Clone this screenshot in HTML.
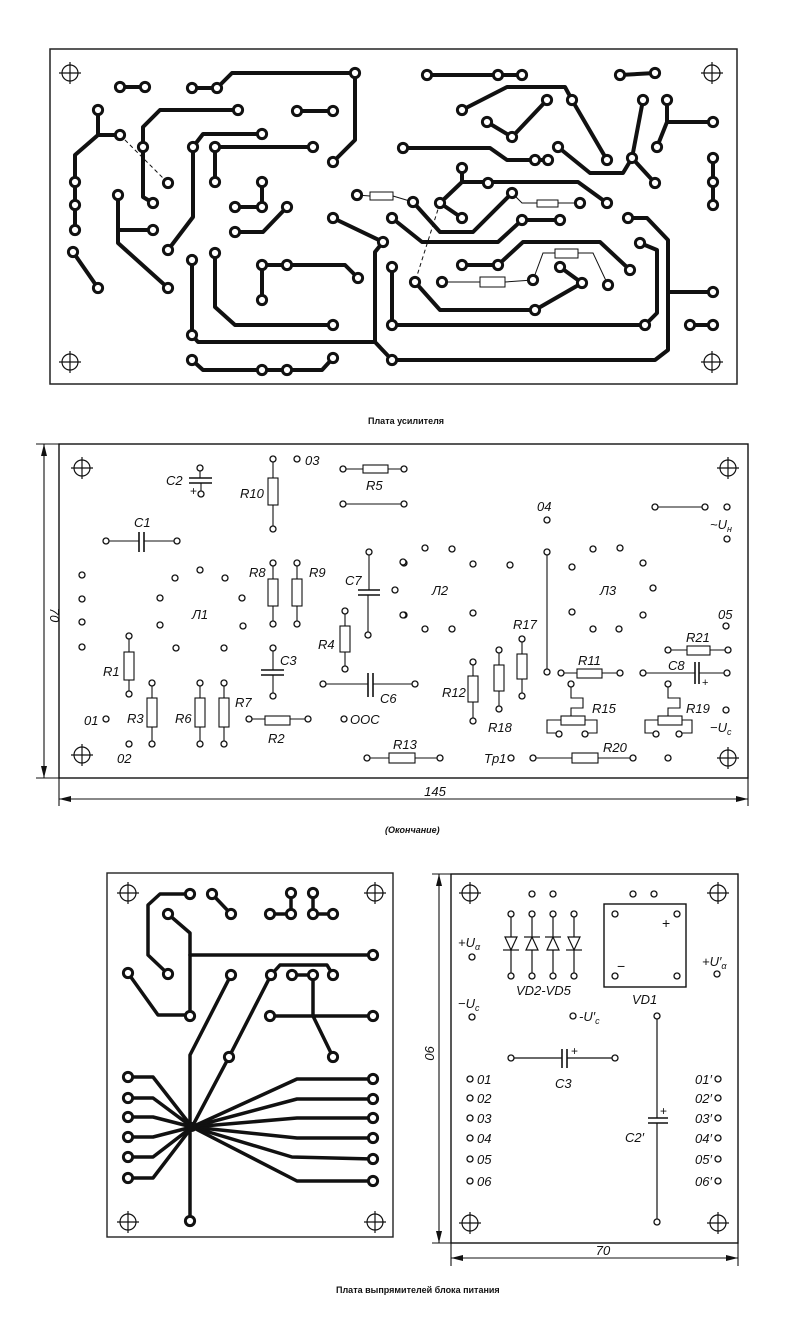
<!DOCTYPE html>
<html><head><meta charset="utf-8">
<style>
html,body{margin:0;padding:0;background:#fff;}
svg{display:block;}
.t{font-family:"Liberation Sans",sans-serif;font-style:italic;font-size:13px;fill:#111;}
.cap{font-family:"Liberation Sans",sans-serif;font-weight:bold;font-size:9px;fill:#111;}
</style></head>
<body>
<svg width="798" height="1332" viewBox="0 0 798 1332" xmlns="http://www.w3.org/2000/svg">
<defs>
<g id="ch"><circle cx="0" cy="0" r="8" fill="none" stroke="#111" stroke-width="1.2"/><line x1="-11" y1="0" x2="11" y2="0" stroke="#111" stroke-width="1.2"/><line x1="0" y1="-11" x2="0" y2="11" stroke="#111" stroke-width="1.2"/></g>
<circle id="P" r="4.6" fill="#fff" stroke="#111" stroke-width="3"/>
<circle id="p" r="3" fill="#fff" stroke="#111" stroke-width="1.3"/>
</defs>

<!-- ================= TOP BOARD ================= -->
<rect x="50" y="49" width="687" height="335" fill="none" stroke="#222" stroke-width="1.5"/>
<use href="#ch" x="70" y="73"/><use href="#ch" x="70" y="362"/><use href="#ch" x="712" y="73"/><use href="#ch" x="712" y="362"/>
<g fill="none" stroke="#111" stroke-width="4" stroke-linejoin="round" stroke-linecap="round">
<polyline points="120,87 145,87"/>
<polyline points="192,88 217,88 232,73 355,73 355,140 333,162"/>
<polyline points="98,110 98,135 120,135"/>
<polyline points="98,135 75,155 75,230"/>
<polyline points="238,110 160,110 143,127 143,197 153,203"/>
<polyline points="262,134 203,134 193,147 193,217 168,250"/>
<polyline points="215,182 215,147 313,147"/>
<polyline points="297,111 333,111"/>
<polyline points="262,182 262,207 235,207"/>
<polyline points="287,207 263,232 235,232"/>
<polyline points="118,195 118,243 168,288"/>
<polyline points="118,230 153,230"/>
<polyline points="73,252 98,288"/>
<polyline points="192,260 192,335 198,342 375,342"/>
<polyline points="215,253 215,307 235,325 333,325"/>
<polyline points="262,300 262,265 345,265 358,278"/>
<polyline points="333,218 383,242 375,252 375,342 392,360"/>
<polyline points="392,267 392,325"/>
<polyline points="192,360 203,370 322,370 333,358"/>
<polyline points="427,75 522,75"/>
<polyline points="620,75 655,73"/>
<polyline points="462,110 507,87 565,87 572,100 607,160"/>
<polyline points="547,100 512,137 487,122"/>
<polyline points="643,100 632,158 623,173 590,173 558,147"/>
<polyline points="632,158 655,183"/>
<polyline points="667,100 667,122 713,122"/>
<polyline points="667,122 657,147"/>
<polyline points="403,148 490,148 507,160 548,160"/>
<polyline points="713,158 713,205"/>
<polyline points="462,168 462,182 578,182 607,203"/>
<polyline points="462,182 440,203 462,218"/>
<polyline points="413,202 440,232 473,232 512,193"/>
<polyline points="392,218 422,242 498,242 522,220 560,220"/>
<polyline points="462,265 498,265 523,242 600,242 630,270"/>
<polyline points="560,267 582,283 535,310 440,310 415,282"/>
<polyline points="392,325 645,325 657,313 657,250 640,243"/>
<polyline points="628,218 647,218 668,240 668,350 655,360 393,360"/>
<polyline points="668,292 713,292"/>
<polyline points="690,325 713,325"/>
</g>
<g fill="none" stroke="#111" stroke-width="1">
<line x1="120" y1="135" x2="168" y2="183" stroke-dasharray="4,3"/>
<line x1="440" y1="203" x2="415" y2="282" stroke-dasharray="4,3"/>
<polyline points="357,195 370,196"/><rect x="370" y="192" width="23" height="8"/><polyline points="393,196 413,202"/>
<polyline points="512,193 522,203 537,203"/><rect x="537" y="200" width="21" height="7"/><polyline points="558,203 580,203"/>
<polyline points="442,282 480,282"/><rect x="480" y="277" width="25" height="10"/><polyline points="505,282 533,280"/>
<polyline points="533,280 543,253 555,253"/><rect x="555" y="249" width="23" height="9"/><polyline points="578,253 593,253 608,285"/>
</g>
<g>
<use href="#P" x="120" y="87"/><use href="#P" x="145" y="87"/><use href="#P" x="192" y="88"/><use href="#P" x="217" y="88"/><use href="#P" x="355" y="73"/><use href="#P" x="333" y="162"/>
<use href="#P" x="98" y="110"/><use href="#P" x="120" y="135"/><use href="#P" x="168" y="183"/><use href="#P" x="75" y="182"/><use href="#P" x="75" y="205"/><use href="#P" x="75" y="230"/>
<use href="#P" x="143" y="147"/><use href="#P" x="238" y="110"/><use href="#P" x="153" y="203"/><use href="#P" x="262" y="134"/><use href="#P" x="193" y="147"/><use href="#P" x="168" y="250"/>
<use href="#P" x="215" y="147"/><use href="#P" x="313" y="147"/><use href="#P" x="215" y="182"/><use href="#P" x="297" y="111"/><use href="#P" x="333" y="111"/>
<use href="#P" x="262" y="182"/><use href="#P" x="262" y="207"/><use href="#P" x="235" y="207"/><use href="#P" x="287" y="207"/><use href="#P" x="235" y="232"/>
<use href="#P" x="118" y="195"/><use href="#P" x="153" y="230"/><use href="#P" x="168" y="288"/><use href="#P" x="73" y="252"/><use href="#P" x="98" y="288"/>
<use href="#P" x="192" y="260"/><use href="#P" x="192" y="335"/><use href="#P" x="215" y="253"/><use href="#P" x="333" y="325"/><use href="#P" x="262" y="265"/><use href="#P" x="287" y="265"/>
<use href="#P" x="358" y="278"/><use href="#P" x="262" y="300"/><use href="#P" x="333" y="218"/><use href="#P" x="383" y="242"/><use href="#P" x="392" y="360"/><use href="#P" x="392" y="267"/><use href="#P" x="392" y="325"/>
<use href="#P" x="192" y="360"/><use href="#P" x="262" y="370"/><use href="#P" x="287" y="370"/><use href="#P" x="333" y="358"/><use href="#P" x="357" y="195"/>
<use href="#P" x="427" y="75"/><use href="#P" x="498" y="75"/><use href="#P" x="522" y="75"/><use href="#P" x="620" y="75"/><use href="#P" x="655" y="73"/>
<use href="#P" x="462" y="110"/><use href="#P" x="572" y="100"/><use href="#P" x="607" y="160"/><use href="#P" x="547" y="100"/><use href="#P" x="512" y="137"/><use href="#P" x="487" y="122"/>
<use href="#P" x="643" y="100"/><use href="#P" x="632" y="158"/><use href="#P" x="558" y="147"/><use href="#P" x="655" y="183"/><use href="#P" x="667" y="100"/><use href="#P" x="713" y="122"/><use href="#P" x="657" y="147"/>
<use href="#P" x="403" y="148"/><use href="#P" x="535" y="160"/><use href="#P" x="548" y="160"/><use href="#P" x="713" y="158"/><use href="#P" x="713" y="182"/><use href="#P" x="713" y="205"/>
<use href="#P" x="462" y="168"/><use href="#P" x="488" y="183"/><use href="#P" x="607" y="203"/><use href="#P" x="440" y="203"/><use href="#P" x="462" y="218"/>
<use href="#P" x="413" y="202"/><use href="#P" x="512" y="193"/><use href="#P" x="580" y="203"/><use href="#P" x="392" y="218"/><use href="#P" x="522" y="220"/><use href="#P" x="560" y="220"/>
<use href="#P" x="415" y="282"/><use href="#P" x="462" y="265"/><use href="#P" x="498" y="265"/><use href="#P" x="630" y="270"/><use href="#P" x="442" y="282"/><use href="#P" x="533" y="280"/><use href="#P" x="608" y="285"/>
<use href="#P" x="560" y="267"/><use href="#P" x="582" y="283"/><use href="#P" x="535" y="310"/><use href="#P" x="645" y="325"/><use href="#P" x="640" y="243"/>
<use href="#P" x="628" y="218"/><use href="#P" x="713" y="292"/><use href="#P" x="690" y="325"/><use href="#P" x="713" y="325"/>
</g>
<text x="368" y="424" class="cap">Плата усилителя</text>

<!-- ================= SECOND BOARD ================= -->
<g fill="none" stroke="#111" stroke-width="1.1">
<rect x="59" y="444" width="689" height="334" stroke-width="1.4"/>
<line x1="44" y1="444" x2="44" y2="778"/>
<line x1="36" y1="444" x2="59" y2="444"/><line x1="36" y1="778" x2="59" y2="778"/>
<line x1="59" y1="778" x2="59" y2="806"/><line x1="748" y1="778" x2="748" y2="806"/>
<line x1="59" y1="799" x2="748" y2="799"/>
</g>
<polygon points="44,444 41,456 47,456" fill="#111"/><polygon points="44,778 41,766 47,766" fill="#111"/>
<polygon points="59,799 71,796 71,802" fill="#111"/><polygon points="748,799 736,796 736,802" fill="#111"/>
<text class="t" transform="translate(50,615) rotate(90)" text-anchor="middle">70</text>
<text class="t" x="435" y="796" text-anchor="middle">145</text>
<use href="#ch" x="82" y="468"/><use href="#ch" x="82" y="755"/><use href="#ch" x="728" y="468"/><use href="#ch" x="728" y="758"/>

<g fill="#fff" stroke="#111" stroke-width="1.1">
<line x1="106" y1="541" x2="139" y2="541"/><line x1="144" y1="541" x2="177" y2="541"/>
<line x1="139" y1="532" x2="139" y2="552" stroke-width="1.6"/><line x1="144" y1="532" x2="144" y2="552" stroke-width="1.6"/>
<line x1="200" y1="468" x2="200" y2="478"/><line x1="189" y1="478" x2="212" y2="478" stroke-width="1.6"/><line x1="189" y1="483" x2="212" y2="483" stroke-width="1.6"/><line x1="201" y1="483" x2="201" y2="494"/>
<line x1="273" y1="459" x2="273" y2="529"/><rect x="268" y="478" width="10" height="27"/>
<line x1="343" y1="469" x2="404" y2="469"/><rect x="363" y="465" width="25" height="8"/>
<line x1="343" y1="504" x2="404" y2="504"/>
<line x1="273" y1="563" x2="273" y2="624"/><rect x="268" y="579" width="10" height="27"/>
<line x1="297" y1="563" x2="297" y2="624"/><rect x="292" y="579" width="10" height="27"/>
<line x1="369" y1="552" x2="369" y2="590"/><line x1="368" y1="595" x2="368" y2="635"/>
<line x1="358" y1="590" x2="380" y2="590" stroke-width="1.6"/><line x1="358" y1="595" x2="380" y2="595" stroke-width="1.6"/>
<line x1="345" y1="611" x2="345" y2="669"/><rect x="340" y="626" width="10" height="26"/>
<line x1="129" y1="636" x2="129" y2="694"/><rect x="124" y="652" width="10" height="28"/>
<line x1="273" y1="648" x2="273" y2="670"/><line x1="273" y1="675" x2="273" y2="696"/>
<line x1="261" y1="670" x2="284" y2="670" stroke-width="1.6"/><line x1="261" y1="675" x2="284" y2="675" stroke-width="1.6"/>
<line x1="152" y1="683" x2="152" y2="744"/><rect x="147" y="698" width="10" height="29"/>
<line x1="200" y1="683" x2="200" y2="744"/><rect x="195" y="698" width="10" height="29"/>
<line x1="224" y1="683" x2="224" y2="744"/><rect x="219" y="698" width="10" height="29"/>
<line x1="249" y1="719" x2="308" y2="719"/><rect x="265" y="716" width="25" height="9"/>
<line x1="323" y1="684" x2="368" y2="684"/><line x1="373" y1="684" x2="415" y2="684"/>
<line x1="368" y1="673" x2="368" y2="697" stroke-width="1.6"/><line x1="373" y1="673" x2="373" y2="697" stroke-width="1.6"/>
<line x1="367" y1="758" x2="440" y2="758"/><rect x="389" y="753" width="26" height="10"/>
<line x1="547" y1="552" x2="547" y2="672"/>
<line x1="655" y1="507" x2="705" y2="507"/>
<line x1="668" y1="650" x2="728" y2="650"/><rect x="687" y="646" width="23" height="9"/>
<line x1="643" y1="673" x2="695" y2="673"/><line x1="699" y1="673" x2="727" y2="673"/>
<line x1="695" y1="662" x2="695" y2="684" stroke-width="1.6"/><line x1="699" y1="662" x2="699" y2="684" stroke-width="1.6"/>
<line x1="561" y1="673" x2="620" y2="673"/><rect x="577" y="669" width="25" height="9"/>
<line x1="473" y1="662" x2="473" y2="721"/><rect x="468" y="676" width="10" height="26"/>
<line x1="499" y1="650" x2="499" y2="709"/><rect x="494" y="665" width="10" height="26"/>
<line x1="522" y1="639" x2="522" y2="696"/><rect x="517" y="654" width="10" height="25"/>
<polyline points="571,684 571,698 583,698 583,708 571,708 571,716" fill="none"/>
<polyline points="561,720 547,720 547,733 559,733" fill="none"/><polyline points="585,720 597,720 597,733 585,733" fill="none"/>
<rect x="561" y="716" width="24" height="9"/>
<polyline points="668,684 668,698 680,698 680,708 668,708 668,716" fill="none"/>
<polyline points="658,720 645,720 645,733 656,733" fill="none"/><polyline points="682,720 692,720 692,733 679,733" fill="none"/>
<rect x="658" y="716" width="24" height="9"/>
<line x1="533" y1="758" x2="633" y2="758"/><rect x="572" y="753" width="26" height="10"/>
</g>
<g>
<use href="#p" x="200" y="468"/><use href="#p" x="201" y="494"/><use href="#p" x="273" y="459"/><use href="#p" x="273" y="529"/><use href="#p" x="297" y="459"/>
<use href="#p" x="343" y="469"/><use href="#p" x="404" y="469"/><use href="#p" x="343" y="504"/><use href="#p" x="404" y="504"/>
<use href="#p" x="106" y="541"/><use href="#p" x="177" y="541"/>
<use href="#p" x="82" y="575"/><use href="#p" x="82" y="599"/><use href="#p" x="82" y="622"/><use href="#p" x="82" y="647"/>
<use href="#p" x="175" y="578"/><use href="#p" x="200" y="570"/><use href="#p" x="225" y="578"/><use href="#p" x="160" y="598"/><use href="#p" x="242" y="598"/><use href="#p" x="160" y="625"/><use href="#p" x="243" y="626"/><use href="#p" x="176" y="648"/><use href="#p" x="224" y="648"/>
<use href="#p" x="273" y="563"/><use href="#p" x="273" y="624"/><use href="#p" x="297" y="563"/><use href="#p" x="297" y="624"/>
<use href="#p" x="369" y="552"/><use href="#p" x="368" y="635"/><use href="#p" x="345" y="611"/><use href="#p" x="345" y="669"/>
<use href="#p" x="129" y="636"/><use href="#p" x="129" y="694"/><use href="#p" x="273" y="648"/><use href="#p" x="273" y="696"/>
<use href="#p" x="152" y="683"/><use href="#p" x="152" y="744"/><use href="#p" x="200" y="683"/><use href="#p" x="200" y="744"/><use href="#p" x="224" y="683"/><use href="#p" x="224" y="744"/>
<use href="#p" x="249" y="719"/><use href="#p" x="308" y="719"/><use href="#p" x="106" y="719"/><use href="#p" x="129" y="744"/>
<use href="#p" x="323" y="684"/><use href="#p" x="415" y="684"/><use href="#p" x="344" y="719"/><use href="#p" x="367" y="758"/><use href="#p" x="440" y="758"/>
<use href="#p" x="404" y="563"/><use href="#p" x="395" y="590"/><use href="#p" x="404" y="615"/>
<use href="#p" x="547" y="520"/><use href="#p" x="547" y="552"/><use href="#p" x="547" y="672"/>
<use href="#p" x="425" y="548"/><use href="#p" x="452" y="549"/><use href="#p" x="403" y="562"/><use href="#p" x="473" y="564"/><use href="#p" x="510" y="565"/><use href="#p" x="403" y="615"/><use href="#p" x="473" y="613"/><use href="#p" x="425" y="629"/><use href="#p" x="452" y="629"/>
<use href="#p" x="593" y="549"/><use href="#p" x="620" y="548"/><use href="#p" x="572" y="567"/><use href="#p" x="643" y="563"/><use href="#p" x="653" y="588"/><use href="#p" x="572" y="612"/><use href="#p" x="643" y="615"/><use href="#p" x="593" y="629"/><use href="#p" x="619" y="629"/>
<use href="#p" x="655" y="507"/><use href="#p" x="705" y="507"/><use href="#p" x="727" y="507"/><use href="#p" x="727" y="539"/><use href="#p" x="726" y="626"/>
<use href="#p" x="668" y="650"/><use href="#p" x="728" y="650"/><use href="#p" x="643" y="673"/><use href="#p" x="727" y="673"/><use href="#p" x="561" y="673"/><use href="#p" x="620" y="673"/>
<use href="#p" x="473" y="662"/><use href="#p" x="473" y="721"/><use href="#p" x="499" y="650"/><use href="#p" x="499" y="709"/><use href="#p" x="522" y="639"/><use href="#p" x="522" y="696"/>
<use href="#p" x="571" y="684"/><use href="#p" x="559" y="734"/><use href="#p" x="585" y="734"/><use href="#p" x="668" y="684"/><use href="#p" x="656" y="734"/><use href="#p" x="679" y="734"/>
<use href="#p" x="726" y="710"/><use href="#p" x="511" y="758"/><use href="#p" x="533" y="758"/><use href="#p" x="633" y="758"/><use href="#p" x="668" y="758"/>
</g>
<g class="t">
<text x="166" y="485">C2</text><text x="190" y="495" font-style="normal" font-size="12">+</text>
<text x="240" y="498">R10</text><text x="305" y="465">03</text><text x="366" y="490">R5</text>
<text x="134" y="527">C1</text><text x="192" y="619">Л1</text><text x="249" y="577">R8</text><text x="309" y="577">R9</text>
<text x="345" y="585">C7</text><text x="318" y="649">R4</text><text x="103" y="676">R1</text><text x="280" y="665">C3</text>
<text x="127" y="723">R3</text><text x="175" y="723">R6</text><text x="235" y="707">R7</text><text x="268" y="743">R2</text>
<text x="84" y="725">01</text><text x="117" y="763">02</text><text x="380" y="703">C6</text><text x="350" y="724">ООС</text><text x="393" y="749">R13</text>
<text x="537" y="511">04</text><text x="432" y="595">Л2</text><text x="600" y="595">Л3</text>
<text x="710" y="529">~U<tspan font-size="9" dy="3">н</tspan></text><text x="718" y="619">05</text>
<text x="686" y="642">R21</text><text x="668" y="670">C8</text><text x="702" y="686" font-style="normal" font-size="11">+</text>
<text x="578" y="665">R11</text><text x="442" y="697">R12</text><text x="488" y="732">R18</text><text x="513" y="629">R17</text>
<text x="592" y="713">R15</text><text x="686" y="713">R19</text><text x="710" y="732">−U<tspan font-size="9" dy="3">c</tspan></text>
<text x="484" y="763">Tp1</text><text x="603" y="752">R20</text>
</g>
<text x="385" y="833" class="cap" font-style="italic">(Окончание)</text>

<!-- ================= BOTTOM LEFT ================= -->
<rect x="107" y="873" width="286" height="364" fill="none" stroke="#222" stroke-width="1.4"/>
<use href="#ch" x="128" y="893"/><use href="#ch" x="375" y="893"/><use href="#ch" x="128" y="1222"/><use href="#ch" x="375" y="1222"/>
<g fill="none" stroke="#111" stroke-width="3.5" stroke-linejoin="round" stroke-linecap="round">
<polyline points="190,894 160,894 148,905 148,955 168,974"/>
<polyline points="168,914 190,933 190,1016"/>
<polyline points="190,955 373,955"/>
<polyline points="128,973 158,1015 190,1015"/>
<polyline points="212,894 231,914"/>
<polyline points="291,893 291,914 270,914"/>
<polyline points="313,893 313,914 333,914"/>
<polyline points="231,975 190,1055 190,1221"/>
<polyline points="333,975 327,965 280,965 271,975 229,1057 192,1127"/>
<polyline points="292,975 313,975 313,1016 333,1057"/>
<polyline points="270,1016 373,1016"/>
<polyline points="128,1077 153,1077 192,1127"/>
<polyline points="128,1098 153,1098 192,1127"/>
<polyline points="128,1117 153,1117 192,1127"/>
<polyline points="128,1137 153,1137 192,1127"/>
<polyline points="128,1157 153,1157 192,1127"/>
<polyline points="128,1178 153,1178 192,1127"/>
<polyline points="373,1079 297,1079 192,1127"/>
<polyline points="373,1099 297,1099 192,1127"/>
<polyline points="373,1118 297,1118 192,1127"/>
<polyline points="373,1138 297,1138 192,1127"/>
<polyline points="373,1159 292,1157 192,1127"/>
<polyline points="373,1181 297,1181 192,1127"/>
</g>
<circle cx="192" cy="1127" r="5" fill="#111"/>
<g>
<use href="#P" x="190" y="894"/><use href="#P" x="168" y="974"/><use href="#P" x="168" y="914"/><use href="#P" x="190" y="1016"/><use href="#P" x="373" y="955"/><use href="#P" x="128" y="973"/>
<use href="#P" x="212" y="894"/><use href="#P" x="231" y="914"/><use href="#P" x="291" y="893"/><use href="#P" x="291" y="914"/><use href="#P" x="270" y="914"/><use href="#P" x="313" y="893"/><use href="#P" x="313" y="914"/><use href="#P" x="333" y="914"/>
<use href="#P" x="231" y="975"/><use href="#P" x="190" y="1221"/><use href="#P" x="271" y="975"/><use href="#P" x="333" y="975"/><use href="#P" x="229" y="1057"/>
<use href="#P" x="292" y="975"/><use href="#P" x="313" y="975"/><use href="#P" x="333" y="1057"/><use href="#P" x="270" y="1016"/><use href="#P" x="373" y="1016"/>
<use href="#P" x="128" y="1077"/><use href="#P" x="128" y="1098"/><use href="#P" x="128" y="1117"/><use href="#P" x="128" y="1137"/><use href="#P" x="128" y="1157"/><use href="#P" x="128" y="1178"/>
<use href="#P" x="373" y="1079"/><use href="#P" x="373" y="1099"/><use href="#P" x="373" y="1118"/><use href="#P" x="373" y="1138"/><use href="#P" x="373" y="1159"/><use href="#P" x="373" y="1181"/>
</g>

<!-- ================= BOTTOM RIGHT ================= -->
<g fill="none" stroke="#111" stroke-width="1.1">
<rect x="451" y="874" width="287" height="369" stroke-width="1.4"/>
<line x1="439" y1="874" x2="439" y2="1243"/>
<line x1="432" y1="874" x2="451" y2="874"/><line x1="432" y1="1243" x2="451" y2="1243"/>
<line x1="451" y1="1243" x2="451" y2="1266"/><line x1="738" y1="1243" x2="738" y2="1266"/>
<line x1="451" y1="1258" x2="738" y2="1258"/>
</g>
<polygon points="439,874 436,886 442,886" fill="#111"/><polygon points="439,1243 436,1231 442,1231" fill="#111"/>
<polygon points="451,1258 463,1255 463,1261" fill="#111"/><polygon points="738,1258 726,1255 726,1261" fill="#111"/>
<text class="t" transform="translate(425,1053) rotate(90)" text-anchor="middle">90</text>
<text class="t" x="603" y="1255" text-anchor="middle">70</text>
<use href="#ch" x="470" y="893"/><use href="#ch" x="718" y="893"/><use href="#ch" x="470" y="1223"/><use href="#ch" x="718" y="1223"/>
<g fill="none" stroke="#111" stroke-width="1.2">
<line x1="511" y1="914" x2="511" y2="976"/><line x1="532" y1="914" x2="532" y2="976"/><line x1="553" y1="914" x2="553" y2="976"/><line x1="574" y1="914" x2="574" y2="976"/>
<polygon points="505,937 517,937 511,950" fill="#fff"/><line x1="503" y1="950" x2="519" y2="950"/>
<polygon points="526,950 538,950 532,937" fill="#fff"/><line x1="524" y1="937" x2="540" y2="937"/>
<polygon points="547,950 559,950 553,937" fill="#fff"/><line x1="545" y1="937" x2="561" y2="937"/>
<polygon points="568,937 580,937 574,950" fill="#fff"/><line x1="566" y1="950" x2="582" y2="950"/>
<rect x="604" y="904" width="82" height="83" stroke-width="1.4"/>
<line x1="511" y1="1058" x2="562" y2="1058"/><line x1="567" y1="1058" x2="615" y2="1058"/>
<line x1="562" y1="1049" x2="562" y2="1068" stroke-width="1.6"/><line x1="567" y1="1049" x2="567" y2="1068" stroke-width="1.6"/>
<line x1="657" y1="1016" x2="657" y2="1118"/><line x1="657" y1="1123" x2="657" y2="1222"/>
<line x1="648" y1="1118" x2="668" y2="1118" stroke-width="1.6"/><line x1="648" y1="1123" x2="668" y2="1123" stroke-width="1.6"/>
</g>
<g>
<use href="#p" x="532" y="894"/><use href="#p" x="553" y="894"/><use href="#p" x="633" y="894"/><use href="#p" x="654" y="894"/>
<use href="#p" x="511" y="914"/><use href="#p" x="532" y="914"/><use href="#p" x="553" y="914"/><use href="#p" x="574" y="914"/>
<use href="#p" x="511" y="976"/><use href="#p" x="532" y="976"/><use href="#p" x="553" y="976"/><use href="#p" x="574" y="976"/>
<use href="#p" x="615" y="914"/><use href="#p" x="677" y="914"/><use href="#p" x="615" y="976"/><use href="#p" x="677" y="976"/>
<use href="#p" x="472" y="957"/><use href="#p" x="717" y="974"/><use href="#p" x="472" y="1017"/><use href="#p" x="573" y="1016"/>
<use href="#p" x="511" y="1058"/><use href="#p" x="615" y="1058"/><use href="#p" x="657" y="1016"/><use href="#p" x="657" y="1222"/>
<use href="#p" x="470" y="1079"/><use href="#p" x="470" y="1098"/><use href="#p" x="470" y="1118"/><use href="#p" x="470" y="1138"/><use href="#p" x="470" y="1159"/><use href="#p" x="470" y="1181"/>
<use href="#p" x="718" y="1079"/><use href="#p" x="718" y="1098"/><use href="#p" x="718" y="1118"/><use href="#p" x="718" y="1138"/><use href="#p" x="718" y="1159"/><use href="#p" x="718" y="1181"/>
</g>
<g class="t">
<text x="516" y="995">VD2-VD5</text><text x="632" y="1004">VD1</text>
<text x="662" y="928" font-style="normal" font-size="14">+</text><text x="617" y="971" font-style="normal" font-size="14">−</text>
<text x="458" y="947">+U<tspan font-size="9" dy="3">α</tspan></text>
<text x="702" y="966">+U′<tspan font-size="9" dy="3">α</tspan></text>
<text x="458" y="1008">−U<tspan font-size="9" dy="3">c</tspan></text>
<text x="579" y="1021">-U′<tspan font-size="9" dy="3">c</tspan></text>
<text x="571" y="1055" font-style="normal" font-size="12">+</text><text x="555" y="1088">C3</text>
<text x="660" y="1115" font-style="normal" font-size="12">+</text><text x="625" y="1142">C2′</text>
<text x="477" y="1084">01</text><text x="477" y="1103">02</text><text x="477" y="1123">03</text><text x="477" y="1143">04</text><text x="477" y="1164">05</text><text x="477" y="1186">06</text>
<text x="695" y="1084">01′</text><text x="695" y="1103">02′</text><text x="695" y="1123">03′</text><text x="695" y="1143">04′</text><text x="695" y="1164">05′</text><text x="695" y="1186">06′</text>
</g>
<text x="336" y="1293" class="cap">Плата выпрямителей блока питания</text>
</svg>
</body></html>
